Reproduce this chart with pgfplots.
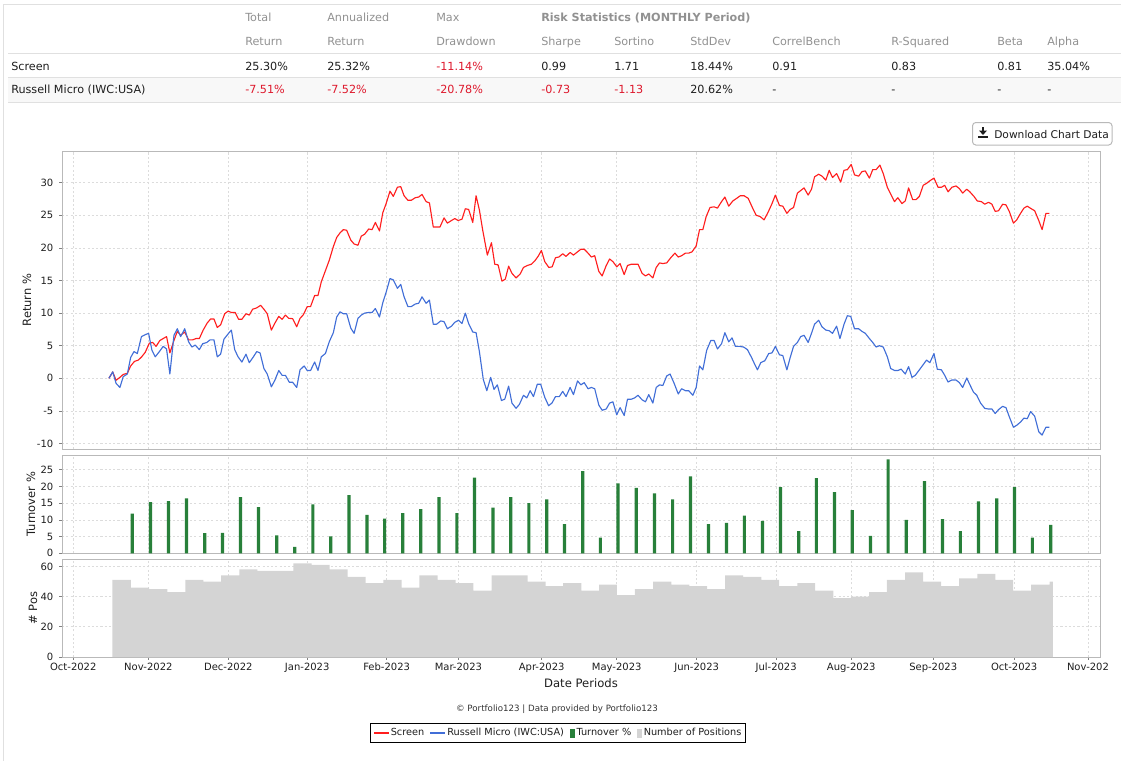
\documentclass[border=0pt]{standalone}
\usepackage{fontspec}
\setmainfont{DejaVu Sans}
\usepackage{pgfplots}
\usepackage{pgfplotstable}
\pgfplotsset{compat=1.18}
\definecolor{scr}{RGB}{255,30,30}
\definecolor{rus}{RGB}{65,110,215}
\definecolor{turnc}{RGB}{40,128,58}
\definecolor{npos}{RGB}{212,212,212}
\definecolor{framec}{RGB}{185,185,185}
\definecolor{gridc}{RGB}{220,220,220}
\definecolor{hdr}{RGB}{145,145,145}
\definecolor{neg}{RGB}{222,25,45}
\definecolor{rulec}{RGB}{224,224,224}
\definecolor{rowbg}{RGB}{248,248,248}
\definecolor{txt}{RGB}{30,30,30}

\pgfplotstableread{
d v
13.9 0
15.4 0.97
16.7 -0.3
18.2 0.15
19.5 0.6
21.1 0.77
22.4 1.9
23.9 2.6
25.4 2.8
26.7 3.3
28.1 4.0
29.7 5.4
31.0 5.5
32.3 4.9
33.8 5.8
35.1 6.1
36.4 6.4
37.7 3.9
39.3 5.8
40.6 7.2
41.9 6.6
43.5 7.1
45.0 5.9
46.6 5.9
47.9 6.1
49.2 6.1
50.7 7.4
52.3 8.5
53.6 9.1
54.9 9.1
56.2 7.8
57.5 8.2
59.1 9.9
60.4 10.3
61.7 10.1
63.2 10.1
64.5 9.05
65.8 9.05
67.4 9.9
68.7 9.7
70.0 10.6
71.6 10.8
73.1 11.2
74.4 10.6
75.7 9.9
77.3 7.4
78.6 8.4
80.2 9.5
81.5 9.05
82.8 9.7
84.1 9.2
85.6 9.15
87.2 7.9
88.5 9.2
89.8 9.75
91.3 11.0
92.6 11.0
94.2 12.7
95.5 12.7
96.8 14.8
98.4 16.5
99.9 18.1
101.5 20.2
102.8 21.6
104.1 22.3
105.4 22.8
106.7 22.7
108.3 21.2
109.6 20.6
111.1 20.4
112.4 21.8
113.7 22.1
115.3 22.9
116.6 22.8
117.9 23.9
119.5 22.6
120.8 25.4
122.1 26.8
123.6 28.7
124.9 27.9
126.5 29.3
127.8 29.4
129.1 28.0
130.6 27.3
131.9 27.3
133.5 27.7
134.8 27.8
136.1 28.2
137.7 27.1
139.0 26.9
140.5 23.2
141.8 23.2
143.1 23.2
144.7 24.6
146.0 23.8
147.6 24.2
148.9 24.5
150.2 24.2
151.7 24.4
153.0 26.0
154.3 25.9
155.9 23.9
157.2 28.0
158.5 25.8
159.8 22.7
161.6 18.9
163.2 20.8
164.5 17.5
165.8 17.4
167.3 14.9
168.6 15.2
169.9 17.2
171.2 16.1
172.8 15.4
174.4 16.0
175.7 17.0
177.2 17.3
178.8 17.5
180.1 18.0
181.4 18.7
182.7 19.6
184.0 17.9
185.6 17.0
186.9 17.1
188.2 18.5
189.5 18.6
191.0 19.1
192.3 18.7
193.9 19.3
195.2 18.9
196.8 19.4
198.1 19.8
199.4 19.8
200.9 19.2
202.2 18.6
203.5 18.8
205.1 16.4
206.4 15.7
208.0 17.3
209.3 18.3
210.6 17.9
212.1 17.1
213.4 17.6
215.0 15.9
216.3 17.3
217.8 17.5
219.1 17.5
220.4 17.5
222.0 16.1
223.3 15.7
224.6 16.0
226.2 15.4
227.5 17.0
228.8 17.7
230.1 17.6
231.6 17.7
233.2 18.5
234.8 19.2
236.1 18.6
237.4 18.8
238.9 19.2
240.2 19.2
241.5 19.4
243.1 20.3
244.4 22.8
245.7 22.8
247.0 24.8
248.5 26.2
250.1 26.3
251.4 26.1
253.0 27.1
254.3 27.8
255.8 26.4
257.4 27.2
258.9 27.6
260.3 28.0
261.8 28.0
263.4 27.6
264.9 26.3
266.5 25.0
268.1 24.8
269.6 24.3
271.2 25.5
272.7 26.8
274.0 28.1
275.6 26.5
276.9 26.4
278.5 25.3
279.8 25.9
281.1 26.2
282.6 28.4
283.9 28.8
285.2 29.2
286.8 28.1
288.1 29.0
289.3 30.9
290.9 31.3
292.2 31.0
293.7 30.4
295.0 31.9
296.3 30.8
297.9 31.4
299.5 30.1
300.8 31.9
302.1 32.0
303.6 32.8
304.9 31.2
306.5 31.0
307.8 31.7
309.1 31.8
310.7 30.7
312.0 32.0
313.3 32.0
314.8 32.7
316.1 31.4
317.7 29.3
319.2 28.1
320.5 27.1
321.8 27.7
323.4 26.8
324.7 27.2
326.0 29.2
327.6 27.4
328.9 27.4
330.2 27.9
331.7 29.6
333.0 29.9
334.3 30.3
335.9 30.7
337.5 29.3
338.8 29.3
340.1 29.6
341.4 28.6
342.9 29.3
344.5 29.5
345.8 29.1
347.1 28.4
348.7 29.0
349.9 28.6
351.5 27.9
352.8 27.2
354.4 27.1
355.7 26.7
357.2 27.0
358.5 26.7
359.8 25.6
361.1 25.7
362.7 26.7
364.0 26.6
365.3 25.6
366.9 23.8
368.2 24.3
369.7 25.3
371.0 26.1
372.3 26.4
373.9 26.0
375.2 25.7
376.8 24.2
378.1 22.8
379.6 25.3
380.9 25.3
}\screen

\pgfplotstableread{
d v
13.9 0
15.4 1.0
16.7 -0.77
18.2 -1.4
19.5 0.26
21.1 0.66
22.4 3.2
23.7 4.1
25.0 3.8
26.6 6.4
28.1 6.7
29.4 6.9
30.7 4.3
32.0 3.3
33.6 4.1
35.1 4.9
36.4 4.5
37.7 0.66
39.3 6.6
40.6 7.6
41.9 6.4
43.5 7.6
45.0 5.6
46.3 4.8
47.6 5.1
49.2 4.4
50.5 5.3
52.1 5.5
53.4 5.9
54.9 5.9
56.2 3.3
57.5 3.7
58.8 6.0
60.4 6.8
61.7 7.4
63.0 4.4
64.3 3.3
65.8 2.5
67.4 3.7
68.7 2.4
70.3 3.3
71.6 4.1
72.9 3.9
74.4 1.5
75.7 0.66
77.3 -1.3
78.6 -0.36
80.2 1.2
81.5 0.46
82.8 0.46
84.3 -0.6
85.6 -0.6
87.2 -1.4
88.5 1.3
90.1 1.9
91.3 1.2
92.6 1.2
94.2 2.5
95.5 1.2
96.8 3.3
98.4 3.8
99.9 5.6
101.5 7.0
102.8 9.4
104.1 10.2
105.4 9.9
106.7 9.9
108.3 7.7
109.6 6.9
111.1 9.2
112.4 9.7
113.7 10.0
115.3 10.1
116.6 10.1
117.9 10.7
119.5 9.4
120.8 11.6
122.1 13.2
123.6 15.3
124.9 15.1
126.5 13.8
127.8 14.4
129.1 12.5
130.6 11.0
131.9 11.0
133.5 11.4
134.8 11.5
136.1 12.5
137.7 11.5
139.0 12.0
140.5 8.3
141.8 8.3
143.4 8.8
144.7 8.7
146.0 7.6
147.6 8.0
148.9 8.6
150.4 8.9
151.7 8.4
153.0 10.0
154.3 8.4
155.9 7.1
157.2 7.0
158.5 4.1
160.0 -0.15
161.4 -1.9
162.9 0.15
164.2 -1.7
165.5 -1.0
167.1 -3.4
168.4 -3.2
169.9 -1.2
171.2 -3.8
172.8 -4.6
174.1 -4.0
175.7 -2.6
177.0 -3.0
178.3 -1.9
179.6 -2.8
181.1 -0.9
182.4 -0.9
184.0 -2.9
185.5 -4.2
186.8 -3.8
188.2 -2.8
189.7 -2.8
191.0 -2.0
192.3 -2.8
193.9 -1.4
195.2 -2.5
196.8 -0.4
198.1 -1.0
199.4 -0.66
200.9 -1.6
202.2 -1.4
203.5 -1.6
205.1 -4.1
206.4 -4.9
208.0 -4.7
209.3 -3.8
210.6 -3.6
212.1 -5.6
213.4 -4.5
215.0 -5.7
216.3 -3.2
217.8 -3.2
219.1 -3.0
220.4 -2.6
222.0 -3.3
223.3 -3.6
224.6 -2.5
226.2 -3.8
227.5 -1.4
228.8 -1.0
230.1 -1.1
231.6 0.36
232.9 0.66
234.5 -0.77
236.1 -2.4
237.4 -1.6
238.9 -1.9
240.2 -1.9
241.8 -2.6
243.1 -1.4
244.4 1.9
245.7 1.3
247.2 4.3
248.8 5.8
250.1 5.8
251.4 4.5
253.0 5.3
254.3 7.0
255.8 5.6
257.1 6.2
258.4 4.9
260.0 4.9
261.6 4.8
263.1 4.4
264.7 3.2
266.0 2.1
267.0 1.3
268.3 2.4
269.9 2.7
271.4 3.8
272.7 3.9
274.0 4.9
275.6 3.6
276.9 3.5
278.5 1.3
279.8 3.2
281.1 4.9
282.6 5.5
283.9 6.4
285.2 6.6
286.8 5.5
288.1 6.9
289.3 8.3
290.9 8.9
292.2 7.9
293.7 7.4
295.0 7.3
296.3 6.9
297.9 8.0
299.2 6.1
300.8 8.3
302.1 9.6
303.4 9.5
304.9 7.6
306.5 7.6
307.8 7.2
309.1 6.9
310.7 6.1
312.0 5.5
313.3 4.8
314.6 5.0
316.1 4.8
317.7 3.3
319.0 1.5
320.5 1.2
321.8 1.2
323.1 1.4
324.7 0.66
326.0 1.8
327.3 0.15
328.6 0.46
330.2 1.3
331.7 2.1
333.0 2.8
334.3 2.4
335.9 3.8
337.2 1.4
338.8 1.3
340.1 0.46
341.4 -0.56
342.9 -0.26
344.5 -0.26
345.8 -0.66
347.1 -1.4
348.7 0.05
349.9 -0.97
351.3 -2.1
352.6 -2.6
354.1 -3.8
355.7 -4.6
357.0 -4.7
358.5 -4.7
359.8 -5.4
361.1 -4.8
362.7 -4.3
364.0 -4.5
365.3 -5.9
366.9 -7.5
368.2 -7.2
369.7 -6.7
371.0 -6.1
372.3 -6.2
373.6 -5.1
375.2 -5.8
376.8 -8.2
378.1 -8.7
379.6 -7.5
380.9 -7.5
}\russell

\pgfplotstableread{
d v
23.0 11.9
30.1 15.3
37.2 15.6
44.2 16.4
51.3 6.0
58.2 6.1
65.3 16.8
72.3 13.8
79.4 5.4
86.4 1.9
93.5 14.6
100.5 5.1
107.6 17.4
114.6 11.5
121.5 10.4
128.6 12.0
135.6 13.2
142.7 16.8
149.7 12.0
156.6 22.6
163.8 13.7
170.7 16.8
177.8 15.0
184.8 16.1
191.7 8.7
198.8 24.6
205.7 4.7
212.6 20.9
219.7 19.6
226.8 17.9
233.9 16.1
240.9 23.0
247.9 8.7
254.9 9.1
261.9 11.3
269.0 9.7
276.0 19.8
283.1 6.6
290.0 22.5
297.1 18.3
304.0 12.9
311.1 5.2
318.0 28.1
325.1 10.0
332.2 21.6
339.2 10.2
346.2 6.6
353.3 15.5
360.4 16.4
367.3 19.8
374.3 4.7
381.5 8.5
}\turnover

\pgfplotstableread{
d v
15.3 51
22.5 46
29.6 45
36.7 43
43.7 51
50.8 50
57.7 54
64.8 58
71.8 57
78.9 57
85.9 62
93.0 61
100.0 58
107.1 53
114.1 49
121.0 51
128.1 46
135.1 54
142.2 51
149.2 49
156.1 44
163.3 54
170.2 54
177.3 50
184.3 47
191.2 49
198.3 44
205.2 48
212.1 41
219.2 45
226.3 50
233.4 48
240.4 47
247.4 45
254.4 54
261.4 53
268.5 51
275.5 47
282.6 49
289.5 44
296.6 39
303.5 40
310.6 43
317.5 51
324.6 56
331.7 50
338.7 47
345.7 52
352.8 55
359.9 51
366.8 44
373.8 48
381.0 50
382.3 50
}\positions

\pgfplotsset{
  panel/.style={
    scale only axis, width=778.5pt, anchor=south west,
    xmin=-4.4, xmax=400.7,
    axis line style={draw=framec, line width=0.6pt},
    grid=major, grid style={draw=gridc, dash pattern=on 1.6pt off 1.6pt, line width=0.5pt},
    tick align=outside, major tick length=2pt, tick pos=left,
    tick style={draw=framec!70!black, line width=0.5pt},
    xtick={0,29.3,60.5,91.3,122.3,150.3,182.8,212.1,243.3,274.3,303.6,335.6,367.2,396},
    ticklabel style={font=\fontsize{7.5}{9}\selectfont, text=txt},
    yticklabel style={xshift=-1pt},
    /pgf/number format/assume math mode=true,
    every axis y label/.style={rotate=90, anchor=center, font=\fontsize{8.6}{10}\selectfont, text=txt},
    every axis x label/.style={at={(axis description cs:0.5,-0.268)}, anchor=center, font=\fontsize{8.7}{10}\selectfont, text=txt},
  }
}

\begin{document}
\begin{tikzpicture}
\begin{scope}[x=0.75pt,y=-0.75pt, every node/.style={inner sep=0pt}]
\path[use as bounding box] (0,0) rectangle (1121,761);
\fill[rowbg] (8,78) rectangle (1121,102);
\draw[rulec, line width=0.75pt] (3,4.5) -- (1121,4.5);
\draw[rulec, line width=0.75pt] (3,4.5) -- (3,761);
\draw[rulec, line width=0.75pt] (8,53.5) -- (1121,53.5);
\draw[rulec, line width=0.75pt] (8,77.5) -- (1121,77.5);
\draw[rulec, line width=0.75pt] (8,102) -- (1121,102);
\begin{scope}[every node/.append style={anchor=base west, font=\fontsize{8.4}{10}\selectfont}]
\node[text=hdr] at (245,21) {Total};
\node[text=hdr] at (327,21) {Annualized};
\node[text=hdr] at (436,21) {Max};
\node[text=hdr, font=\fontsize{8.4}{10}\selectfont\bfseries] at (541,21) {Risk Statistics (MONTHLY Period)};
\node[text=hdr] at (245,45) {Return};
\node[text=hdr] at (327,45) {Return};
\node[text=hdr] at (436,45) {Drawdown};
\node[text=hdr] at (541,45) {Sharpe};
\node[text=hdr] at (614,45) {Sortino};
\node[text=hdr] at (690,45) {StdDev};
\node[text=hdr] at (772,45) {CorrelBench};
\node[text=hdr] at (891,45) {R-Squared};
\node[text=hdr] at (997,45) {Beta};
\node[text=hdr] at (1047,45) {Alpha};
\node[text=txt] at (11,70) {Screen};
\node[text=txt] at (245,70) {25.30\%};
\node[text=txt] at (327,70) {25.32\%};
\node[text=neg] at (436,70) {-11.14\%};
\node[text=txt] at (541,70) {0.99};
\node[text=txt] at (614,70) {1.71};
\node[text=txt] at (690,70) {18.44\%};
\node[text=txt] at (772,70) {0.91};
\node[text=txt] at (891,70) {0.83};
\node[text=txt] at (997,70) {0.81};
\node[text=txt] at (1047,70) {35.04\%};
\node[text=txt] at (11,93.3) {Russell Micro (IWC:USA)};
\node[text=neg] at (245,93.3) {-7.51\%};
\node[text=neg] at (327,93.3) {-7.52\%};
\node[text=neg] at (436,93.3) {-20.78\%};
\node[text=neg] at (541,93.3) {-0.73};
\node[text=neg] at (614,93.3) {-1.13};
\node[text=txt] at (690,93.3) {20.62\%};
\node[text=txt] at (772,93.3) {-};
\node[text=txt] at (891,93.3) {-};
\node[text=txt] at (997,93.3) {-};
\node[text=txt] at (1047,93.3) {-};
\end{scope}
% download button
\draw[draw=framec, fill=white, rounded corners=2.5pt, line width=0.75pt] (972.5,122.5) rectangle (1112,145);
\fill[txt] (981.8,126.5) rectangle (984.2,131);
\fill[txt] (979,130.5) -- (987,130.5) -- (983,135) -- cycle;
\fill[txt] (978,136.3) rectangle (988,138.3);
\node[anchor=base west, font=\fontsize{8}{10}\selectfont, text=txt] at (994,138) {Download Chart Data};
% footer
\node[anchor=center, font=\fontsize{6.5}{8}\selectfont, text=black!80] at (557,709) {© Portfolio123 | Data provided by Portfolio123};
\end{scope}

% Return panel
\begin{axis}[panel, at={(46.5pt,-336.75pt)}, height=223.5pt,
  ymin=-10.84, ymax=34.86, ytick={-10,-5,0,5,10,15,20,25,30},
  xticklabels={}, xtick style={draw=none},
  ylabel={Return \%}, every axis y label/.append style={at={(axis description cs:-0.0337,0.5)}}]
\addplot[scr, line width=0.85pt, line join=round] table[x=d,y=v] {\screen};
\addplot[rus, line width=0.85pt, line join=round] table[x=d,y=v] {\russell};
\end{axis}

% Turnover panel
\begin{axis}[panel, at={(46.5pt,-414.975pt)}, height=73.725pt,
  ymin=0, ymax=29.4, ytick={0,5,10,15,20,25},
  xticklabels={}, xtick style={draw=none},
  ylabel={Turnover \%}, every axis y label/.append style={at={(axis description cs:-0.0299,0.5)}}]
\addplot[ybar, bar width=2.4pt, bar shift=0pt, fill=turnc, draw=none] table[x=d,y=v] {\turnover};
\end{axis}

% Positions panel
\begin{axis}[panel, at={(46.5pt,-492.75pt)}, height=73.5pt,
  ymin=0, ymax=64.9, ytick={0,20,40,60},
  xticklabels={Oct-2022,Nov-2022,Dec-2022,Jan-2023,Feb-2023,Mar-2023,Apr-2023,May-2023,Jun-2023,Jul-2023,Aug-2023,Sep-2023,Oct-2023,Nov-202},
  xticklabel style={yshift=1pt},
  ylabel={\# Pos}, every axis y label/.append style={at={(axis description cs:-0.0279,0.5)}},
  xlabel={Date Periods},
  legend columns=4,
  legend style={at={(axis description cs:0.478,-0.776)}, anchor=center, draw=black, line width=0.75pt,
    font=\fontsize{7.3}{8.5}\selectfont, inner xsep=2pt, inner ysep=2.6pt,
    /tikz/every even column/.append style={column sep=3pt},
    nodes={inner sep=1.2pt, text=txt}},
  legend cell align=left]
\addplot[const plot, fill=npos, draw=none, forget plot] table[x=d,y=v] {\positions} \closedcycle;
\addlegendimage{legend image code/.code={\draw[draw=scr, line width=0.9pt] (0pt,0pt) -- (11pt,0pt);}}
\addlegendentry{Screen}
\addlegendimage{legend image code/.code={\draw[draw=rus, line width=0.9pt] (0pt,0pt) -- (11pt,0pt);}}
\addlegendentry{Russell Micro (IWC:USA)}
\addlegendimage{legend image code/.code={\path[fill=turnc, draw=none] (0pt,-3.4pt) rectangle (4pt,3.4pt);}}
\addlegendentry{Turnover \%}
\addlegendimage{legend image code/.code={\path[fill=npos, draw=none] (0pt,-3.4pt) rectangle (4pt,3.4pt);}}
\addlegendentry{Number of Positions}
\end{axis}
\end{tikzpicture}
\end{document}
